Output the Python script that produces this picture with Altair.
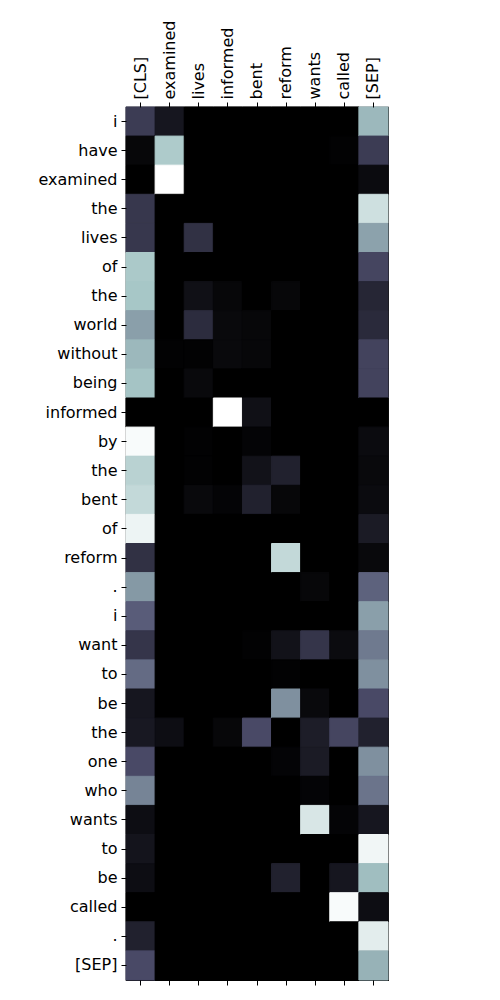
import altair as alt
import pandas as pd

cols = ["[CLS]", "examined", "lives", "informed", "bent", "reform", "wants", "called", "[SEP]"]
rows = ["i", "have", "examined", "the", "lives", "of", "the", "world", "without", "being",
        "informed", "by", "the", "bent", "of", "reform", ".", "i", "want", "to",
        "be", "the", "one", "who", "wants", "to", "be", "called", ".", "[SEP]"]

v_cls = [0.27, 0.03, 0.0, 0.25, 0.25, 0.76, 0.75, 0.62, 0.70, 0.74, 0.0, 0.98, 0.80, 0.83, 0.95,
         0.22, 0.60, 0.40, 0.24, 0.45, 0.10, 0.11, 0.33, 0.53, 0.06, 0.09, 0.06, 0.0, 0.15, 0.33]
v_examined = [0.10, 0.77, 1.0, 0, 0, 0, 0, 0, 0.01, 0, 0, 0, 0, 0, 0,
              0, 0, 0, 0, 0, 0, 0.06, 0, 0, 0, 0, 0, 0, 0, 0]
v_lives = [0, 0, 0, 0, 0.22, 0, 0.07, 0.20, 0.01, 0.04, 0, 0.01, 0.01, 0.04, 0,
           0, 0, 0, 0, 0, 0, 0, 0, 0, 0, 0, 0, 0, 0, 0]
v_informed = [0, 0, 0, 0, 0, 0, 0.03, 0.04, 0.04, 0, 1.0, 0, 0, 0.02, 0,
              0, 0, 0, 0, 0, 0, 0.03, 0, 0, 0, 0, 0, 0, 0, 0]
v_bent = [0, 0, 0, 0, 0, 0, 0, 0.03, 0.03, 0, 0.07, 0.02, 0.08, 0.15, 0,
          0, 0, 0, 0.01, 0, 0, 0.33, 0, 0, 0, 0, 0, 0, 0, 0]
v_reform = [0, 0, 0, 0, 0, 0, 0.03, 0, 0, 0, 0, 0, 0.15, 0.03, 0,
            0.83, 0, 0, 0.08, 0.01, 0.57, 0, 0.02, 0, 0, 0, 0.15, 0, 0, 0]
v_wants = [0, 0, 0, 0, 0, 0, 0, 0, 0, 0, 0, 0, 0, 0, 0,
           0, 0.03, 0, 0.24, 0, 0.04, 0.13, 0.12, 0.02, 0.89, 0, 0, 0, 0, 0]
v_called = [0, 0.01, 0, 0, 0, 0, 0, 0, 0, 0, 0, 0, 0, 0, 0,
            0, 0, 0, 0.05, 0, 0, 0.31, 0, 0, 0.02, 0, 0.10, 0.98, 0, 0]
v_sep = [0.70, 0.27, 0.05, 0.86, 0.63, 0.31, 0.17, 0.19, 0.30, 0.30, 0, 0.05, 0.04, 0.05, 0.12,
         0.04, 0.42, 0.62, 0.50, 0.57, 0.33, 0.15, 0.57, 0.48, 0.10, 0.96, 0.72, 0.06, 0.92, 0.68]

columns = [v_cls, v_examined, v_lives, v_informed, v_bent, v_reform, v_wants, v_called, v_sep]

records = []
for ci, cname in enumerate(cols):
    for ri in range(len(rows)):
        records.append({"col": cname, "row": ri, "value": columns[ci][ri]})
df = pd.DataFrame(records)

label_expr = "[" + ",".join("'" + r + "'" for r in rows) + "][datum.value]"

FONT = "DejaVu Sans"
FS = 16

bone = alt.Scale(domain=[0, 0.365079, 0.746032, 1],
                 range=["#000000", "#515171", "#a6c6c6", "#ffffff"],
                 interpolate="rgb")

y_enc = alt.Y("row:O", sort=None, scale=alt.Scale(paddingInner=0, paddingOuter=0),
              axis=alt.Axis(title=None, labelExpr=label_expr, labelPadding=4))

xscale = alt.Scale(paddingInner=0, paddingOuter=0)

top = alt.Chart(df).mark_rect(strokeWidth=1).encode(
    x=alt.X("col:N", sort=cols, scale=xscale,
            axis=alt.Axis(orient="top", title=None, labelAngle=-90, labelAlign="left",
                          labelBaseline="middle", labelPadding=3)),
    y=y_enc,
    color=alt.Color("value:Q", scale=bone, legend=None),
    stroke=alt.Stroke("value:Q", scale=bone, legend=None),
)

bottom = alt.Chart(df).mark_rect(opacity=0, strokeWidth=0).encode(
    x=alt.X("col:N", sort=cols, scale=xscale,
            axis=alt.Axis(orient="bottom", title=None, labels=False)),
    y=y_enc,
)

chart = alt.layer(top, bottom).resolve_axis(x="independent").properties(
    width=262, height=873,
    background="white",
    autosize=alt.AutoSizeParams(type="none"),
    padding={"left": 126, "top": 107, "right": 112, "bottom": 20},
).configure_view(stroke="black", strokeWidth=1.2, fill="black").configure_axis(
    grid=False, domain=False, labelFont=FONT, labelFontSize=FS, labelColor="black",
    tickColor="black", tickSize=5, tickWidth=1, labelFontWeight="normal", labelLimit=300,
)

chart.save("out.html", embed_options={"renderer": "svg", "actions": False})
